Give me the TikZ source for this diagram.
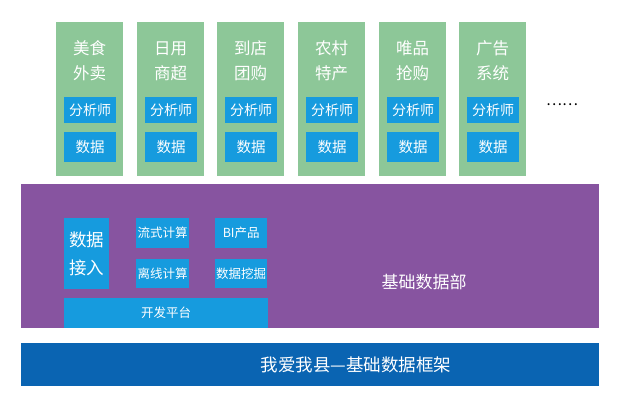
\documentclass[tikz,border=0pt]{standalone}
\usepackage{fontspec}
\setmainfont{Noto Sans CJK SC}
\definecolor{colgreen}{RGB}{141,199,152}
\definecolor{deppurple}{RGB}{135,84,160}
\definecolor{boxblue}{RGB}{22,155,222}
\definecolor{barblue}{RGB}{10,100,178}
\begin{document}
\begin{tikzpicture}[x=1pt,y=-1pt,
  colbox/.style={fill=colgreen,draw=none,minimum width=67pt,minimum height=154pt,inner sep=0pt},
  bluebox/.style={fill=boxblue,draw=none,inner sep=0pt,text=white},
  lbl/.style={text=white,inner sep=0pt,align=center}]
\useasboundingbox (0,0) rectangle (640,412);
\fill[white] (0,0) rectangle (640,412);
% columns
\foreach \i/\xl/\la/\lb in {1/56/美食/外卖,2/137/日用/商超,3/217/到店/团购,4/298/农村/特产,5/379/唯品/抢购,6/459/广告/系统}{
  \node[colbox,anchor=north west] (col\i) at (\xl,22) {};
  \node[lbl,font=\fontsize{16.5}{25}\selectfont] (t\i) at (\xl+33.5,61) {\la\\\lb};
  \node[bluebox,minimum width=52pt,minimum height=26pt,font=\fontsize{14}{14}\selectfont,anchor=north west] (a\i) at (\xl+8,97) {分析师};
  \node[bluebox,minimum width=52pt,minimum height=30pt,font=\fontsize{14.5}{14.5}\selectfont,anchor=north west] (d\i) at (\xl+8,132) {数据};
}
\node[inner sep=0pt,font=\fontsize{15}{15}\selectfont] (dots) at (562,105) {……};
% purple department
\node[fill=deppurple,draw=none,inner sep=0pt,minimum width=578pt,minimum height=144pt,anchor=north west] (dept) at (21,184) {};
\node[lbl,font=\fontsize{17}{17}\selectfont] (deptlbl) at (424,282) {基础数据部};
\node[bluebox,anchor=north west,minimum width=45pt,minimum height=71pt,align=left,font=\fontsize{17.5}{28}\selectfont] (ingest) at (64,218) {数据\\接入};
\node[bluebox,anchor=north west,minimum width=53pt,minimum height=30pt,font=\fontsize{12.5}{12.5}\selectfont] (stream) at (136,218) {流式计算};
\node[bluebox,anchor=north west,minimum width=53pt,minimum height=29pt,font=\fontsize{12.5}{12.5}\selectfont] (offline) at (136,259) {离线计算};
\node[bluebox,anchor=north west,minimum width=52pt,minimum height=30pt,font=\fontsize{12.5}{12.5}\selectfont] (bi) at (215,218) {BI产品};
\node[bluebox,anchor=north west,minimum width=52pt,minimum height=29pt,font=\fontsize{12.5}{12.5}\selectfont] (mining) at (215,259) {数据挖掘};
\node[bluebox,anchor=north west,minimum width=204pt,minimum height=30pt,font=\fontsize{12.5}{12.5}\selectfont] (devplat) at (64,298) {开发平台};
% bottom bar
\node[fill=barblue,draw=none,inner sep=0pt,minimum width=578pt,minimum height=43pt,anchor=north west] (base) at (21,343) {};
\node[lbl,font=\fontsize{17.5}{17.5}\selectfont] (baselbl) at (356,365) {我爱我县—基础数据框架};
\end{tikzpicture}
\end{document}
